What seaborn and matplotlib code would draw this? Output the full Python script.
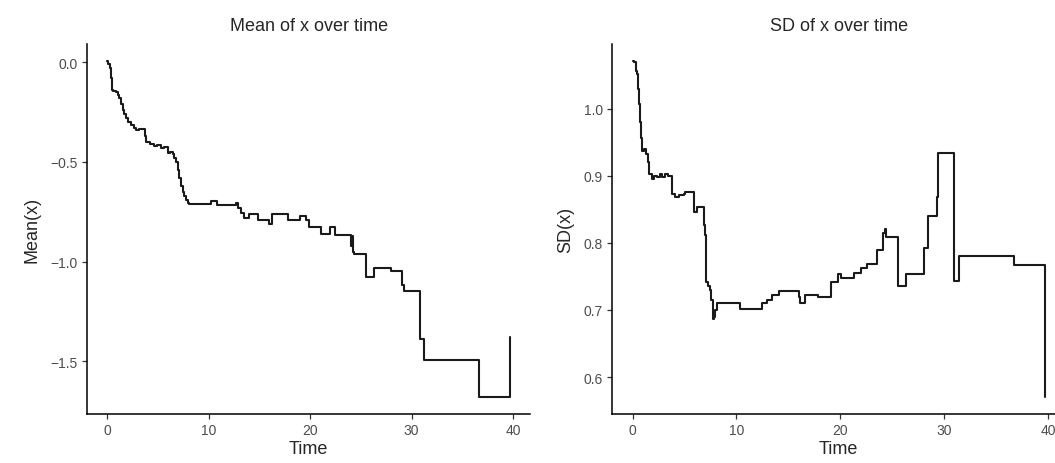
import seaborn as sns
import pandas as pd
from matplotlib import pyplot as plt

# step-change points (value holds from each time until the next)
mean_time = [0.0, 0.1, 0.23, 0.39, 0.5, 0.56, 0.89, 1.05, 1.2, 1.35, 1.55, 1.7,
             1.87, 2.1, 2.36, 2.6, 2.86, 3.1, 3.7, 3.84, 4.2, 4.66, 4.9, 5.3,
             5.6, 5.98, 6.2, 6.47, 6.6, 6.8, 6.95, 7.12, 7.3, 7.45, 7.6, 7.78,
             7.95, 8.1, 10.25, 10.8, 12.7, 12.9, 13.2, 13.5, 14.0, 14.9, 15.9,
             16.2, 17.8, 19.0, 19.6, 19.9, 21.1, 22.0, 22.5, 24.0, 24.1, 24.2,
             24.3, 25.5, 26.3, 28.0, 29.1, 29.3, 30.8, 31.2, 36.6, 39.7]
mean_value = [0.005, -0.01, -0.03, -0.08, -0.14, -0.145, -0.15, -0.165, -0.18,
              -0.21, -0.24, -0.26, -0.28, -0.30, -0.315, -0.33, -0.34, -0.337,
              -0.37, -0.40, -0.41, -0.42, -0.415, -0.43, -0.425, -0.457, -0.45,
              -0.46, -0.48, -0.50, -0.54, -0.58, -0.62, -0.65, -0.67, -0.69,
              -0.707, -0.71, -0.698, -0.715, -0.705, -0.73, -0.757, -0.78, -0.76,
              -0.79, -0.81, -0.76, -0.79, -0.77, -0.79, -0.826, -0.86, -0.826,
              -0.865, -0.92, -0.87, -0.95, -0.963, -1.077, -1.03, -1.05, -1.12,
              -1.15, -1.39, -1.495, -1.68, -1.376]

sd_time = [0.0, 0.13, 0.29, 0.45, 0.55, 0.6, 0.7, 0.77, 0.93, 1.1, 1.3, 1.45,
           1.57, 1.9, 2.1, 2.37, 2.6, 2.85, 3.17, 3.4, 3.8, 4.13, 4.5, 4.93,
           5.1, 5.9, 6.22, 6.86, 7.0, 7.1, 7.3, 7.43, 7.6, 7.72, 7.85, 7.95,
           8.14, 10.38, 12.47, 12.95, 13.43, 14.07, 16.0, 16.1, 16.57, 17.9,
           19.1, 19.8, 20.1, 21.3, 22.0, 22.6, 23.5, 24.1, 24.3, 24.4, 25.6,
           26.35, 28.1, 28.4, 29.3, 29.45, 30.9, 31.4, 36.7, 39.7]
sd_value = [1.071, 1.069, 1.056, 1.052, 1.03, 1.007, 0.98, 0.957, 0.937, 0.94,
            0.933, 0.92, 0.903, 0.895, 0.90, 0.898, 0.903, 0.898, 0.903, 0.90,
            0.873, 0.868, 0.872, 0.873, 0.876, 0.846, 0.853, 0.826, 0.811,
            0.742, 0.735, 0.73, 0.715, 0.686, 0.69, 0.70, 0.711, 0.701, 0.711,
            0.715, 0.722, 0.728, 0.72, 0.711, 0.723, 0.719, 0.741, 0.754, 0.747,
            0.755, 0.763, 0.768, 0.79, 0.814, 0.82, 0.808, 0.736, 0.753, 0.792,
            0.84, 0.868, 0.934, 0.743, 0.781, 0.767, 0.57]

x_ticks = [0, 10, 20, 30, 40]
mean_ticks = [0.0, -0.5, -1.0, -1.5]
sd_ticks = [0.6, 0.7, 0.8, 0.9, 1.0]

sns.set_theme(style="ticks")
plt.rcParams["font.family"] = ["Liberation Sans", "DejaVu Sans"]

fig = plt.figure(figsize=(10.55, 4.64), dpi=100)
ax1 = fig.add_axes([0.0825, 0.1056, 0.42, 0.797])
ax2 = fig.add_axes([0.580, 0.1056, 0.430, 0.797])

mean_df = pd.DataFrame({"Time": mean_time, "value": mean_value})
sd_df = pd.DataFrame({"Time": sd_time, "value": sd_value})


def expand(lo, hi, frac=0.05):
    pad = (hi - lo) * frac
    return lo - pad, hi + pad


panels = [
    (ax1, mean_df, "Mean of x over time", "Mean(x)", mean_ticks),
    (ax2, sd_df, "SD of x over time", "SD(x)", sd_ticks),
]
for ax, df, title, ylab, yt in panels:
    sns.lineplot(data=df, x="Time", y="value", ax=ax, drawstyle="steps-post",
                 estimator=None, sort=False, color="#1a1a1a", linewidth=1.5)
    ax.set_xlim(*expand(df["Time"].min(), df["Time"].max()))
    ax.set_ylim(*expand(df["value"].min(), df["value"].max()))
    ax.set_xticks(x_ticks)
    ax.set_yticks(yt)
    ax.set_yticklabels([f"{v:.1f}".replace("-", "\u2212") for v in yt])
    ax.set_title(title, fontsize=13, pad=10)
    ax.set_xlabel("Time", fontsize=13, labelpad=2)
    ax.set_ylabel(ylab, fontsize=13, labelpad=7)
    ax.tick_params(axis="both", colors="#333333", labelcolor="#4d4d4d",
                   labelsize=10, length=3.5, width=0.9, pad=3)
    sns.despine(ax=ax)
    for side in ["left", "bottom"]:
        ax.spines[side].set_linewidth(1.1)
        ax.spines[side].set_color("black")

fig.savefig("out.png", dpi=100)
